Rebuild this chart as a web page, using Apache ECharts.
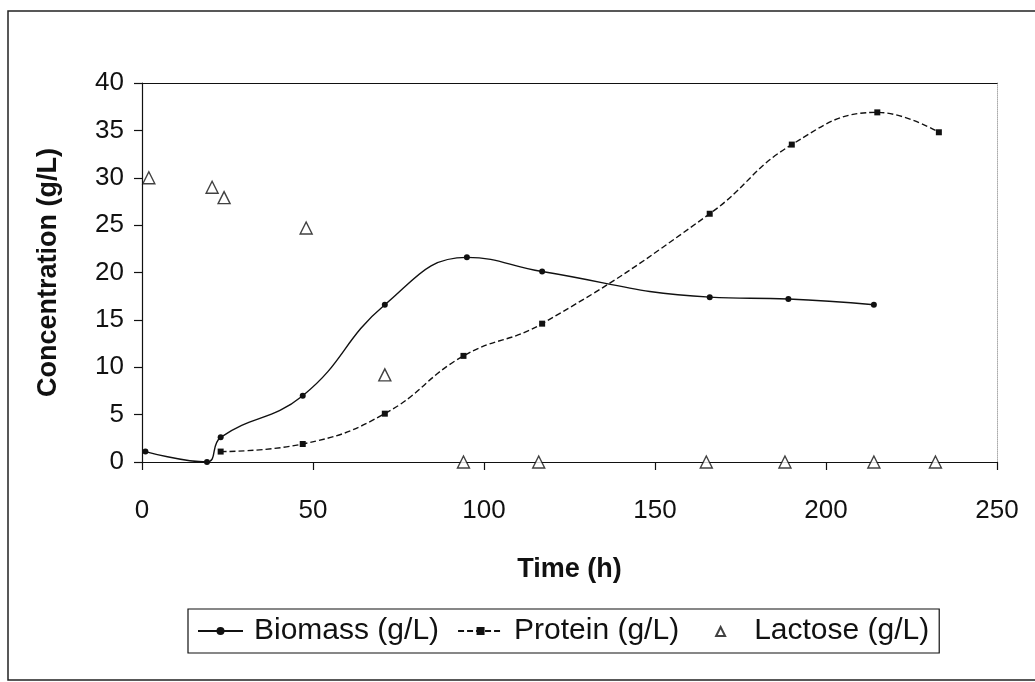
<!DOCTYPE html>
<html>
<head>
<meta charset="utf-8">
<script src="https://cdn.jsdelivr.net/npm/echarts@6/dist/echarts.min.js"></script>
<style>
html,body{margin:0;padding:0;background:#fff;}
#c{width:1035px;height:682px;}
</style>
</head>
<body>
<div id="c"></div>
<script>
// ---- data ----
const biomassTime = [1, 19, 23, 47, 71, 95, 117, 166, 189, 214];
const biomassValues = [1.1, 0, 2.6, 7.0, 16.6, 21.6, 20.1, 17.4, 17.2, 16.6];
const proteinTime = [23, 47, 71, 94, 117, 166, 190, 215, 233];
const proteinValues = [1.1, 1.9, 5.1, 11.2, 14.6, 26.2, 33.5, 36.9, 34.8];
const lactoseTime = [2, 20.5, 24, 48, 71, 94, 116, 165, 188, 214, 232];
const lactoseValues = [30.0, 29.0, 27.9, 24.7, 9.2, 0, 0, 0, 0, 0, 0];
const seriesNames = ['Biomass (g/L)', 'Protein (g/L)', 'Lactose (g/L)'];
const xTitle = 'Time (h)';
const yTitle = 'Concentration (g/L)';

const pair = (xs, ys) => xs.map((x, i) => [x, ys[i]]);
const FONT = "'Liberation Sans', Arial, sans-serif";
// small triangle centred in a 45x10 legend box (corner points only set the bounds)
const TRI_ICON = 'path://M0,0L0,0M18,10L22.5,1L27,10ZM45,10L45,10';

const chart = echarts.init(document.getElementById('c'), null, {renderer: 'canvas'});
chart.setOption({
  backgroundColor: '#fff',
  animation: false,
  textStyle: {fontFamily: FONT, color: '#111'},
  graphic: [{
    type: 'rect',
    shape: {x: 8, y: 11, width: 1040, height: 669},
    style: {fill: 'none', stroke: '#222', lineWidth: 1.5},
    silent: true, z: -1
  }],
  grid: {left: 142, right: 38, top: 83, bottom: 220, show: false},
  xAxis: [{
    type: 'value', min: 0, max: 250, interval: 50,
    name: xTitle, nameLocation: 'middle', nameGap: 94,
    nameTextStyle: {fontFamily: FONT, fontSize: 27, fontWeight: 'bold', color: '#111'},
    axisLine: {show: true, onZero: false, lineStyle: {color: '#111', width: 1.2}},
    axisTick: {show: true, inside: false, length: 8, lineStyle: {color: '#111', width: 1.2}},
    axisLabel: {fontFamily: FONT, fontSize: 26, color: '#111', margin: 36},
    splitLine: {show: false}
  }, {
    type: 'value', min: 0, max: 250, position: 'top',
    axisLine: {show: true, onZero: false, lineStyle: {color: '#111', width: 1.2}},
    axisTick: {show: false}, axisLabel: {show: false}, splitLine: {show: false}
  }],
  yAxis: [{
    type: 'value', min: 0, max: 40, interval: 5,
    name: yTitle, nameLocation: 'middle', nameGap: 80, nameRotate: 90,
    nameTextStyle: {fontFamily: FONT, fontSize: 27, fontWeight: 'bold', color: '#111'},
    axisLine: {show: true, onZero: false, lineStyle: {color: '#111', width: 1.2}},
    axisTick: {show: true, inside: false, length: 8, lineStyle: {color: '#111', width: 1.2}},
    axisLabel: {fontFamily: FONT, fontSize: 26, color: '#111', margin: 18},
    splitLine: {show: false}
  }, {
    type: 'value', min: 0, max: 40, position: 'right',
    axisLine: {show: true, onZero: false, lineStyle: {color: '#aaa', width: 1, type: 'dotted'}},
    axisTick: {show: false}, axisLabel: {show: false}, splitLine: {show: false}
  }],
  legend: {
    left: 188, top: 609,
    padding: [7, 10, 7, 9],
    borderColor: '#111', borderWidth: 1.2,
    itemWidth: 45, itemHeight: 10, itemGap: 18,
    textStyle: {fontFamily: FONT, fontSize: 30, color: '#111', padding: [0, 0, 0, 6]},
    data: [
      {name: seriesNames[0]},
      {name: seriesNames[1]},
      {name: seriesNames[2], icon: TRI_ICON}
    ]
  },
  series: [{
    name: seriesNames[0], type: 'line',
    data: pair(biomassTime, biomassValues),
    smooth: 0.45,
    symbol: 'circle', symbolSize: 6,
    lineStyle: {color: '#111', width: 1.4, type: 'solid'},
    itemStyle: {color: '#111'}
  }, {
    name: seriesNames[1], type: 'line',
    data: pair(proteinTime, proteinValues),
    smooth: 0.45,
    symbol: 'rect', symbolSize: 6,
    lineStyle: {color: '#111', width: 1.4, type: [6, 3]},
    itemStyle: {color: '#111'}
  }, {
    name: seriesNames[2], type: 'scatter',
    data: pair(lactoseTime, lactoseValues),
    symbol: 'triangle', symbolSize: 12,
    clip: false,
    itemStyle: {color: '#fff', borderColor: '#111', borderWidth: 1.4}
  }]
});
</script>
</body>
</html>
